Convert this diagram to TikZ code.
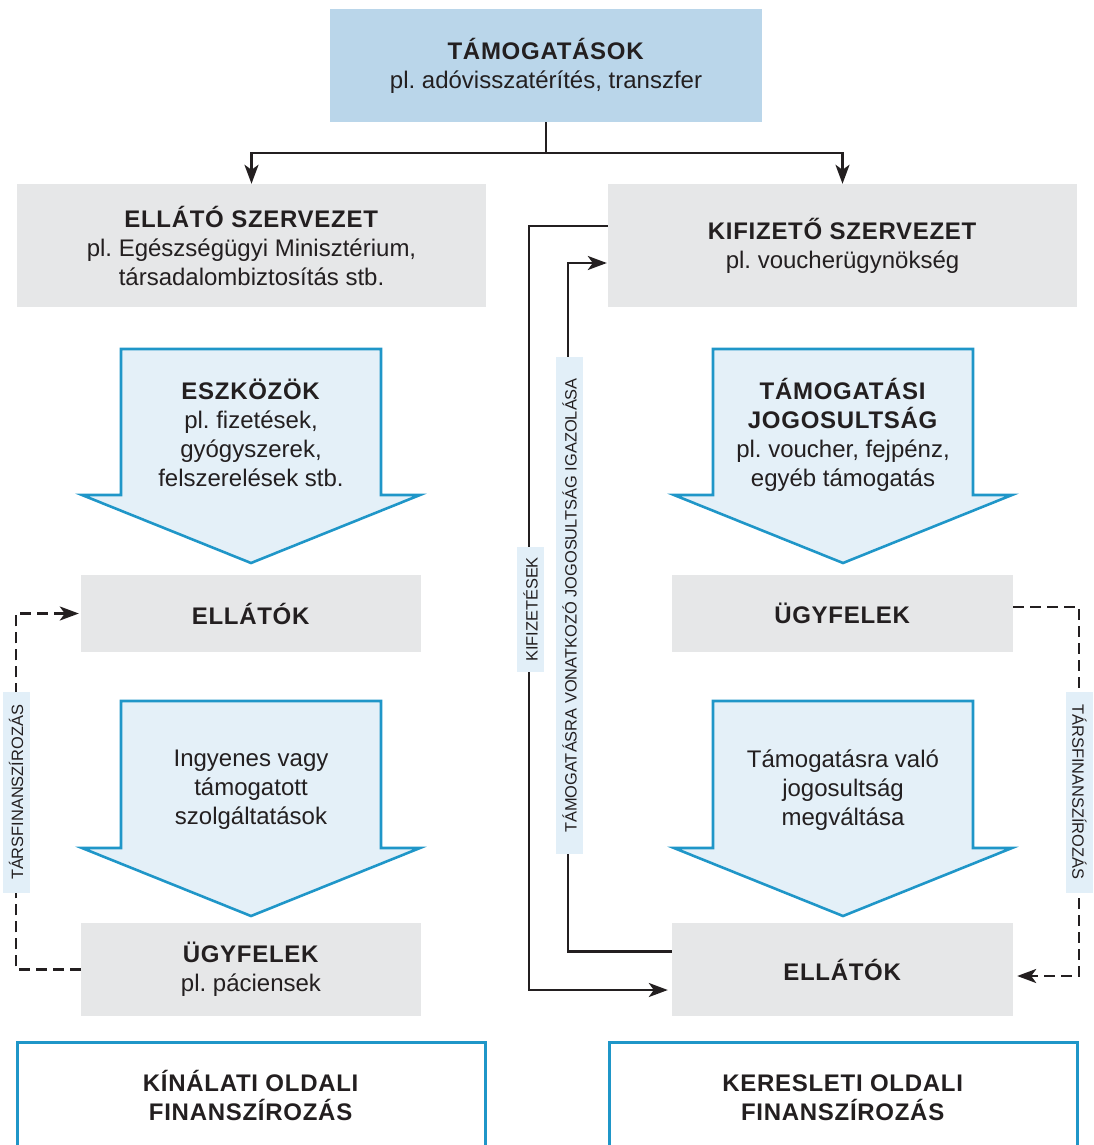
\documentclass[tikz,border=0pt]{standalone}
\usepackage{fontspec}
\setmainfont{Liberation Sans}[BoldFeatures={LetterSpace=3}]
\usetikzlibrary{arrows.meta}
\definecolor{txt}{HTML}{231F20}
\definecolor{topfill}{HTML}{BAD6EA}
\definecolor{boxgray}{HTML}{E6E7E8}
\definecolor{flowfill}{HTML}{E4F0F8}
\definecolor{flowline}{HTML}{1F96C8}
\definecolor{tagfill}{HTML}{E2EFF8}
\definecolor{linecol}{HTML}{231F20}
\frenchspacing

\begin{document}
\begin{tikzpicture}[x=1pt,y=-1pt,
  every node/.style={text=txt, font=\fontsize{24}{29}\selectfont, align=center},
  topbox/.style={fill=topfill, minimum width=432pt, minimum height=113pt, inner sep=0pt},
  graybox/.style={fill=boxgray, inner sep=0pt},
  flow/.style={fill=flowfill, draw=flowline, line width=2.6pt, line join=miter},
  sidebox/.style={draw=flowline, line width=3pt},
  conn/.style={draw=linecol, line width=2.6pt},
  tip/.style={-{Stealth[length=19pt,width=14pt,inset=5pt]}},
  dashconn/.style={conn, dash pattern=on 11pt off 6pt},
  tag/.style={fill=tagfill, font=\fontsize{16.4}{19}\selectfont, inner sep=0pt, minimum height=27pt},
]
\path[use as bounding box, clip] (0,0) rectangle (1094,1145);

% --- boxes ---
\node[topbox] (top) at (546,65.5) {\textbf{TÁMOGATÁSOK}\\pl. adóvisszatérítés, transzfer};
\node[graybox, minimum width=469pt, minimum height=123pt] (lsup) at (251.5,245.5)
  {\textbf{ELLÁTÓ SZERVEZET}\\pl. Egészségügyi Minisztérium,\\társadalombiztosítás stb.};
\node[graybox, minimum width=469pt, minimum height=123pt] (pay) at (842.5,245.5)
  {\textbf{KIFIZETŐ SZERVEZET}\\pl. voucherügynökség};
\node[graybox, minimum width=340pt, minimum height=77pt] (lprov) at (251,613.5) {\textbf{ELLÁTÓK}};
\node[graybox, minimum width=341pt, minimum height=77pt] (rcli) at (842.5,613.5) {\textbf{ÜGYFELEK}};
\node[graybox, minimum width=340pt, minimum height=93pt] (lcli) at (251,969.5) {\textbf{ÜGYFELEK}\\pl. páciensek};
\node[graybox, minimum width=341pt, minimum height=93pt] (rprov) at (842.5,969.5) {\textbf{ELLÁTÓK}};

% --- big flow arrows ---
\draw[flow] (121,349) -- (381,349) -- (381,495) -- (420,495) -- (251,563) -- (82,495) -- (121,495) -- cycle;
\draw[flow] (713,349) -- (973,349) -- (973,495) -- (1012,495) -- (843,563) -- (674,495) -- (713,495) -- cycle;
\draw[flow] (121,701) -- (381,701) -- (381,848) -- (420,848) -- (251,916) -- (82,848) -- (121,848) -- cycle;
\draw[flow] (713,701) -- (973,701) -- (973,848) -- (1012,848) -- (843,916) -- (674,848) -- (713,848) -- cycle;

\node (res) at (251,433) {\textbf{ESZKÖZÖK}\\pl. fizetések,\\gyógyszerek,\\felszerelések stb.};
\node (ent) at (843,435) {\textbf{TÁMOGATÁSI}\\\textbf{JOGOSULTSÁG}\\pl. voucher, fejpénz,\\egyéb támogatás};
\node (free) at (251,790) {Ingyenes vagy\\támogatott\\szolgáltatások};
\node (redeem) at (843,790) {Támogatásra való\\jogosultság\\megváltása};

% --- bottom frames ---
\draw[sidebox] (17,1160) -- (17,1042) -- (485,1042) -- (485,1160);
\draw[sidebox] (609,1160) -- (609,1042) -- (1077,1042) -- (1077,1160);
\node (supply) at (251,1095) {\textbf{KÍNÁLATI OLDALI}\\\textbf{FINANSZÍROZÁS}};
\node (demand) at (843,1098) {\textbf{KERESLETI OLDALI}\\\textbf{FINANSZÍROZÁS}};

% --- connectors ---
\coordinate (fork) at (546,153);
\draw[conn] (top.south) -- (fork);
\draw[conn, tip] (fork) -| (lsup.north);
\draw[conn, tip] (fork) -| (pay.north);

\coordinate (payrow) at (0,226);
\coordinate (provrow) at (0,990);
\coordinate (paycol) at (529,0);
\draw[conn, tip, shorten >=4pt] (pay.west |- payrow) -| (paycol |- provrow) -- (rprov.west |- provrow);

\coordinate (prooflow) at (0,951.5);
\coordinate (proofhigh) at (0,263);
\coordinate (proofcol) at (568,0);
\draw[conn, tip, shorten >=1pt] (rprov.west |- prooflow) -| (proofcol |- proofhigh) -- (pay.west |- proofhigh);

\coordinate (lcol) at (16,0);
\draw[dashconn, tip, shorten >=2pt] (lcli.west) -| (lcol |- lprov.west) -- (lprov.west);

\coordinate (rcol) at (1079,0);
\coordinate (rtop) at (0,607);
\coordinate (rbot) at (0,976);
\draw[dashconn, tip, shorten >=4pt] (rcli.east |- rtop) -| (rcol |- rbot) -- (rprov.east |- rbot);

% --- connector labels ---
\node[tag, rotate=90, minimum width=125pt] (tpay) at (530.5,609.5) {KIFIZETÉSEK};
\node[tag, rotate=90, minimum width=497pt] (tproof) at (569.5,605.5) {TÁMOGATÁSRA VONATKOZÓ JOGOSULTSÁG IGAZOLÁSA};
\node[tag, rotate=90, minimum width=201pt] (tcol) at (16,792.5) {TÁRSFINANSZÍROZÁS};
\node[tag, rotate=-90, minimum width=201pt] (tcor) at (1079.5,792) {TÁRSFINANSZÍROZÁS};
\end{tikzpicture}
\end{document}
